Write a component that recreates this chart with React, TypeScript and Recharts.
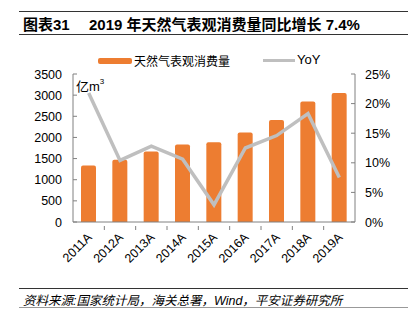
import React from "react";
import { Bar, ComposedChart, Line, XAxis, YAxis } from "recharts";

const years = ["2011A", "2012A", "2013A", "2014A", "2015A", "2016A", "2017A", "2018A", "2019A"];
const consumption = [1337, 1472, 1667, 1833, 1887, 2116, 2415, 2847, 3052];
const yoy = [21.8, 10.4, 12.8, 10.6, 2.9, 12.5, 14.6, 18.3, 7.5];
const leftTicks = [0, 500, 1000, 1500, 2000, 2500, 3000, 3500];
const rightTicks = [0, 5, 10, 15, 20, 25];

const data = years.map((y, i) => ({ year: y, gas: consumption[i], yoy: yoy[i] }));

const FONT = '"Liberation Sans", Arial, "Noto Sans CJK SC", sans-serif';
const ORANGE = "#ED7D31";
const GREY = "#BFBFBF";
const AXIS = "#808080";

const LeftTick = ({ x, y, payload }: any) => (
  <g>
    <line x1={x + 11} x2={x + 15} y1={y} y2={y} stroke={AXIS} />
    <text x={x} y={y} dy={4.5} textAnchor="end" fontSize={12.5} fill="#000" fontFamily={FONT}>
      {payload.value}
    </text>
  </g>
);

const RightTick = ({ x, y, payload }: any) => (
  <g>
    <line x1={x - 10} x2={x - 14} y1={y} y2={y} stroke={AXIS} />
    <text x={x} y={y} dy={4.5} textAnchor="start" fontSize={12.5} fill="#000" fontFamily={FONT}>
      {payload.value + "%"}
    </text>
  </g>
);

const XTick = ({ x, y, payload }: any) => {
  const half = payload.offset || 15.67;
  return (
    <g>
      {payload.index < years.length - 1 && (
        <line x1={x + half} x2={x + half} y1={y} y2={y - 4} stroke={AXIS} />
      )}
      <text
        x={x + 4}
        y={y + 8}
        textAnchor="end"
        fontSize={12.5}
        fill="#000"
        fontFamily={FONT}
        transform={`rotate(-45 ${x + 4} ${y + 8})`}
      >
        {payload.value}
      </text>
    </g>
  );
};

export default function App() {
  return (
    <div style={{ position: "absolute", left: 0, top: 0, width: 414, height: 324, background: "#fff", fontFamily: FONT }}>
      <div style={{ position: "absolute", left: 19, top: 11, width: 389, height: 22, borderTop: "1.5px solid #333", borderBottom: "1.5px solid #333" }} />
      <div style={{ position: "absolute", left: 23, top: 13, fontSize: 15, fontWeight: 700, color: "#000", whiteSpace: "nowrap" }}>
        图表31
      </div>
      <div style={{ position: "absolute", left: 89, top: 13, fontSize: 15, fontWeight: 700, color: "#000", whiteSpace: "nowrap" }}>
        2019 年天然气表观消费量同比增长 7.4%
      </div>

      <div style={{ position: "absolute", left: 98, top: 58, width: 34, height: 6, background: ORANGE, borderRadius: 2 }} />
      <div style={{ position: "absolute", left: 134, top: 52, fontSize: 12, color: "#000", whiteSpace: "nowrap" }}>天然气表观消费量</div>
      <div style={{ position: "absolute", left: 263, top: 59, width: 32, height: 3, background: GREY }} />
      <div style={{ position: "absolute", left: 297, top: 52, fontSize: 13, color: "#000", whiteSpace: "nowrap" }}>YoY</div>

      <ComposedChart width={414} height={324} data={data} margin={{ top: 74, right: 0, bottom: 0, left: 0 }} style={{ position: "absolute", left: 0, top: 0 }}>
        <XAxis dataKey="year" height={102} stroke={AXIS} tickLine={false} interval={0} tick={<XTick />} />
        <YAxis
          yAxisId="left"
          width={73}
          domain={[0, 3500]}
          ticks={leftTicks}
          stroke={AXIS}
          tickLine={false}
          tickSize={0}
          tickMargin={11}
          interval={0}
          tick={<LeftTick />}
        />
        <YAxis
          yAxisId="right"
          orientation="right"
          width={59}
          domain={[0, 25]}
          ticks={rightTicks}
          stroke={AXIS}
          tickLine={false}
          tickSize={0}
          tickMargin={10}
          interval={0}
          tick={<RightTick />}
        />
        <Bar yAxisId="left" dataKey="gas" fill={ORANGE} barSize={15} radius={[2, 2, 0, 0]} isAnimationActive={false} />
        <Line yAxisId="right" dataKey="yoy" stroke={GREY} strokeWidth={3.5} dot={false} type="linear" isAnimationActive={false} />
      </ComposedChart>

      <div style={{ position: "absolute", left: 76, top: 76, fontSize: 13, color: "#000", whiteSpace: "nowrap" }}>
        亿m<sup style={{ fontSize: 8, verticalAlign: "top", position: "relative", top: 1 }}>3</sup>
      </div>

      <div style={{ position: "absolute", left: 19, top: 288, width: 389, height: 18, borderTop: "1px solid #333", borderBottom: "1.5px solid #999" }} />
      <div style={{ position: "absolute", left: 23, top: 290, fontSize: 12.5, fontStyle: "italic", color: "#000", whiteSpace: "nowrap" }}>
        资料来源:国家统计局，海关总署，Wind，平安证券研究所
      </div>
    </div>
  );
}
